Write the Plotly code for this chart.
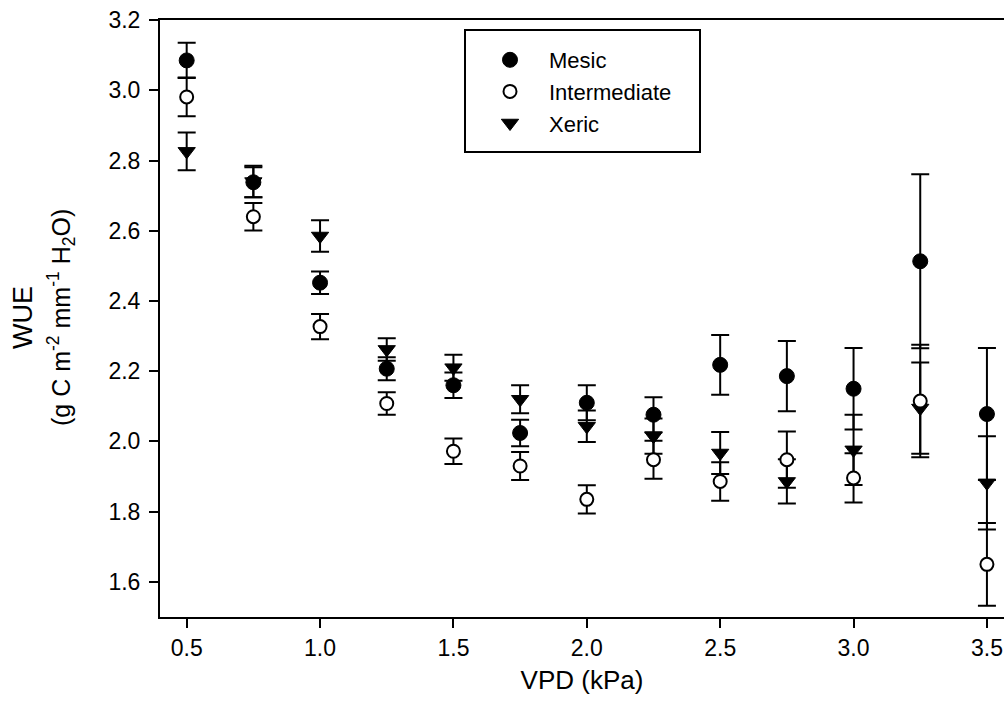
import plotly.graph_objects as go

vpd = [0.5, 0.75, 1.0, 1.25, 1.5, 1.75, 2.0, 2.25, 2.5, 2.75, 3.0, 3.25, 3.5]

mesic = [3.085, 2.738, 2.452, 2.207, 2.160, 2.024, 2.110, 2.076, 2.218, 2.186, 2.150, 2.513, 2.078]
mesic_err = [0.050, 0.043, 0.032, 0.033, 0.036, 0.038, 0.050, 0.050, 0.085, 0.100, 0.116, 0.248, 0.188]

intermediate = [2.981, 2.640, 2.327, 2.108, 1.972, 1.930, 1.835, 1.948, 1.886, 1.948, 1.896, 2.115, 1.650]
intermediate_err = [0.055, 0.039, 0.036, 0.032, 0.036, 0.040, 0.040, 0.054, 0.055, 0.080, 0.070, 0.160, 0.118]

xeric = [2.826, 2.740, 2.585, 2.262, 2.210, 2.120, 2.043, 2.015, 1.967, 1.886, 1.976, 2.095, 1.882]
xeric_err = [0.054, 0.045, 0.045, 0.032, 0.037, 0.040, 0.045, 0.050, 0.060, 0.063, 0.100, 0.130, 0.133]

FONT = "Liberation Sans, Arial, sans-serif"

def err(vals):
    return dict(type="data", array=vals, visible=True, color="black", thickness=2, width=9)

fig = go.Figure()
fig.add_trace(go.Scatter(
    x=vpd, y=xeric, mode="markers", name="Xeric", legendrank=3,
    marker=dict(symbol="triangle-down", size=15, color="black", line=dict(color="black", width=1)),
    error_y=err(xeric_err)))
fig.add_trace(go.Scatter(
    x=vpd, y=intermediate, mode="markers", name="Intermediate", legendrank=2,
    marker=dict(symbol="circle", size=13, color="white", line=dict(color="black", width=2)),
    error_y=err(intermediate_err)))
fig.add_trace(go.Scatter(
    x=vpd, y=mesic, mode="markers", name="Mesic", legendrank=1,
    marker=dict(symbol="circle", size=15, color="black", line=dict(color="black", width=1)),
    error_y=err(mesic_err)))

W, H = 1004, 718
L, R, T, B = 160, 0, 20, 101
pw, ph = W - L - R, H - T - B

def px_x(p):
    return (p - L) / pw

def px_y(p):
    return (H - B - p) / ph

fig.update_layout(
    width=W, height=H,
    margin=dict(l=L, r=R, t=T, b=B),
    paper_bgcolor="white", plot_bgcolor="white",
    font=dict(family=FONT, size=23, color="black"),
    showlegend=True,
    legend=dict(
        x=px_x(471), y=px_y(39), xanchor="left", yanchor="top",
        bgcolor="rgba(0,0,0,0)", borderwidth=0,
        font=dict(family=FONT, size=22, color="black"),
        itemwidth=68, tracegroupgap=0, traceorder="normal",
    ),
    shapes=[dict(type="rect", xref="paper", yref="paper",
                 x0=px_x(465), x1=px_x(700), y0=px_y(152), y1=px_y(30),
                 line=dict(color="black", width=2), fillcolor="rgba(0,0,0,0)")],
    annotations=[
        dict(text="WUE", xref="paper", yref="paper", x=px_x(23), y=px_y(318),
             showarrow=False, textangle=-90, xanchor="center", yanchor="middle",
             font=dict(family=FONT, size=27, color="black")),
        dict(text="(g C m<sup>-2</sup> mm<sup>-1</sup> H<sub>2</sub>O)", xref="paper", yref="paper",
             x=px_x(61), y=px_y(318),
             showarrow=False, textangle=-90, xanchor="center", yanchor="middle",
             font=dict(family=FONT, size=25, color="black")),
    ],
)

fig.update_xaxes(
    range=[0.4, 3.564], tickvals=[0.5, 1.0, 1.5, 2.0, 2.5, 3.0, 3.5],
    tickformat=".1f", showgrid=False, zeroline=False,
    showline=True, linecolor="black", linewidth=2, mirror=True,
    ticks="outside", ticklen=9, tickwidth=2, tickcolor="black",
    tickfont=dict(family=FONT, size=23, color="black"),
    ticklabeloverflow="allow",
    title=dict(text="VPD (kPa)", font=dict(family=FONT, size=26, color="black"), standoff=11),
)
fig.update_yaxes(
    range=[1.5, 3.2001], dtick=0.2, tick0=0, tickformat=".1f",
    showgrid=False, zeroline=False,
    showline=True, linecolor="black", linewidth=2, mirror=False,
    ticks="outside", ticklen=9, tickwidth=2, tickcolor="black",
    tickfont=dict(family=FONT, size=23, color="black"),
    ticklabeloverflow="allow",
    ticklabelstandoff=4,
)

fig.write_html(
    "out.html",
    config={"displayModeBar": False},
    post_script="document.body.style.margin='0';document.body.style.overflow='hidden';",
)
